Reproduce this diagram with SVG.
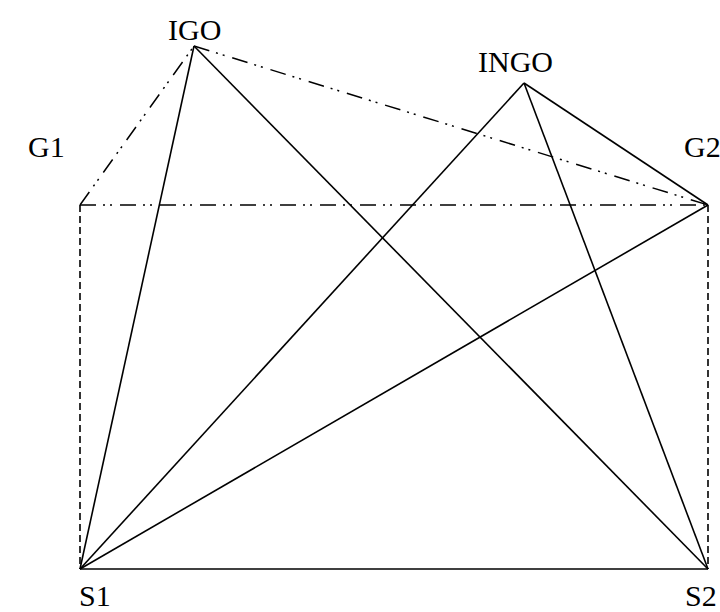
<svg xmlns="http://www.w3.org/2000/svg" width="720" height="612" viewBox="0 0 720 612">
<style>
.lbl{font-family:"Liberation Serif","Times New Roman",serif;font-size:30px;fill:#000}
.s{stroke:#000;stroke-width:1.6;fill:none}
.dd{stroke:#000;stroke-width:1.5;fill:none;stroke-dasharray:16 7 2 5 2 8}
.da{stroke:#000;stroke-width:1.6;fill:none;stroke-dasharray:7 4}
</style>
<rect width="720" height="612" fill="#fff"/>
<g id="connectors">
<line class="dd" x1="80" y1="205" x2="194" y2="46"/>
<line class="dd" x1="194" y1="46" x2="708" y2="205"/>
<line class="dd" x1="80" y1="205" x2="708" y2="205"/>
<line class="da" x1="80" y1="205" x2="80" y2="569"/>
<line class="da" x1="708" y1="205" x2="708" y2="569"/>
<line class="s" x1="80" y1="569" x2="194" y2="46"/>
<line class="s" x1="194" y1="46" x2="708" y2="569"/>
<line class="s" x1="80" y1="569" x2="524" y2="83"/>
<line class="s" x1="524" y1="83" x2="708" y2="569"/>
<line class="s" x1="524" y1="83" x2="708" y2="205"/>
<line class="s" x1="80" y1="569" x2="708" y2="205"/>
<line class="s" x1="80" y1="569" x2="708" y2="569"/>
</g>
<g id="IGO"><text class="lbl" x="168" y="40">IGO</text></g>
<g id="INGO"><text class="lbl" x="478" y="72">INGO</text></g>
<g id="G1"><text class="lbl" x="28" y="157">G1</text></g>
<g id="G2"><text class="lbl" x="684" y="157">G2</text></g>
<g id="S1"><text class="lbl" x="79" y="606">S1</text></g>
<g id="S2"><text class="lbl" x="685" y="606">S2</text></g>
</svg>
